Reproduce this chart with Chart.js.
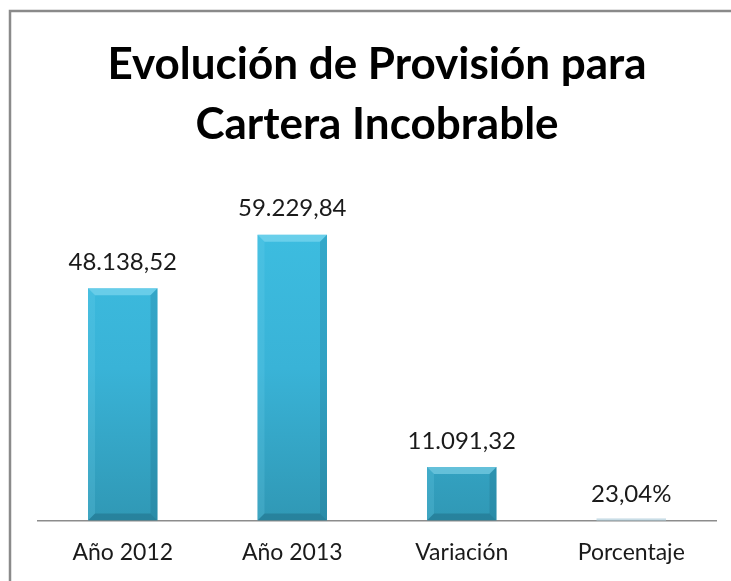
<!DOCTYPE html>
<html>
<head>
<meta charset="utf-8">
<script src="https://cdn.jsdelivr.net/npm/chart.js@4"></script>
<style>
  body { margin: 0; background: #fff; }
  #wrap { position: relative; width: 731px; height: 581px; }
</style>
</head>
<body>
<div id="wrap"><canvas id="provChart" width="731" height="581"></canvas></div>
<script>
const categories = ["Año 2012", "Año 2013", "Variación", "Porcentaje"];
const values = [48138.52, 59229.84, 11091.32, 23.04];
const valueLabels = ["48.138,52", "59.229,84", "11.091,32", "23,04%"];
const titleLines = ["Evolución de Provisión para", "Cartera Incobrable"];

const FONT = "Lato, 'Open Sans', sans-serif";

// frame around the chart, cut off at right and bottom like the original
const framePlugin = {
  id: "frame",
  beforeDraw(chart) {
    const c = chart.ctx;
    c.save();
    c.fillStyle = "#fff";
    c.fillRect(0, 0, chart.width, chart.height);
    c.strokeStyle = "#8a8a8a";
    c.lineWidth = 2.5;
    c.strokeRect(10, 11, chart.width + 20, chart.height + 20);
    c.restore();
  }
};

// bevel on bars + value labels above them
const barExtras = {
  id: "barExtras",
  afterDatasetsDraw(chart) {
    const c = chart.ctx;
    const meta = chart.getDatasetMeta(0);
    c.save();
    meta.data.forEach((bar, i) => {
      const left = bar.x - bar.width / 2;
      const right = bar.x + bar.width / 2;
      const top = bar.y;
      const bottom = bar.base;
      const h = bottom - top;
      const b = Math.min(7, h / 2);
      if (h > 2) {
        // top bevel (light)
        c.fillStyle = "rgba(160,230,248,0.45)";
        c.beginPath();
        c.moveTo(left, top);
        c.lineTo(right, top);
        c.lineTo(right - b, top + b);
        c.lineTo(left + b, top + b);
        c.closePath();
        c.fill();
        // left bevel
        c.fillStyle = "rgba(120,215,240,0.2)";
        c.beginPath();
        c.moveTo(left, top);
        c.lineTo(left + b, top + b);
        c.lineTo(left + b, bottom - b);
        c.lineTo(left, bottom);
        c.closePath();
        c.fill();
        // right bevel (dark)
        c.fillStyle = "rgba(20,90,115,0.2)";
        c.beginPath();
        c.moveTo(right, top);
        c.lineTo(right - b, top + b);
        c.lineTo(right - b, bottom - b);
        c.lineTo(right, bottom);
        c.closePath();
        c.fill();
        // bottom bevel (dark)
        c.fillStyle = "rgba(20,80,100,0.3)";
        c.beginPath();
        c.moveTo(left, bottom);
        c.lineTo(left + b, bottom - b);
        c.lineTo(right - b, bottom - b);
        c.lineTo(right, bottom);
        c.closePath();
        c.fill();
      } else {
        c.fillStyle = "#c9dde6";
        c.fillRect(left, bottom - 2, right - left, 2);
      }
      c.fillStyle = "#1a1a1a";
      c.font = "24px " + FONT;
      c.textAlign = "center";
      c.textBaseline = "middle";
      c.fillText(valueLabels[i], bar.x, top - 26);
    });
    c.restore();
  }
};

const ctx = document.getElementById("provChart").getContext("2d");

new Chart(ctx, {
  type: "bar",
  data: {
    labels: categories,
    datasets: [{
      data: values,
      backgroundColor: function (context) {
        const area = context.chart.chartArea;
        if (!area) return "#38b3d6";
        const g = context.chart.ctx.createLinearGradient(0, area.top, 0, area.bottom);
        g.addColorStop(0, "#3ec0e3");
        g.addColorStop(0.55, "#39b3d7");
        g.addColorStop(1, "#3098b5");
        return g;
      },
      borderWidth: 0,
      categoryPercentage: 1,
      barPercentage: 0.41
    }]
  },
  options: {
    responsive: false,
    animation: false,
    layout: { padding: { left: 38, right: 15, top: 0, bottom: -3 } },
    plugins: {
      legend: { display: false },
      tooltip: { enabled: false },
      title: {
        display: true,
        text: titleLines,
        color: "#000",
        font: { family: FONT, size: 44, weight: "bold", lineHeight: 1.36 },
        padding: { top: 35, bottom: 28 }
      }
    },
    scales: {
      x: {
        grid: { display: false, drawTicks: false },
        border: { display: true, color: "#8c8c8c", width: 1.5 },
        ticks: { color: "#1a1a1a", font: { family: FONT, size: 23 }, padding: 18 }
      },
      y: {
        display: false,
        min: 0,
        max: 70000
      }
    }
  },
  plugins: [framePlugin, barExtras]
});
</script>
</body>
</html>
